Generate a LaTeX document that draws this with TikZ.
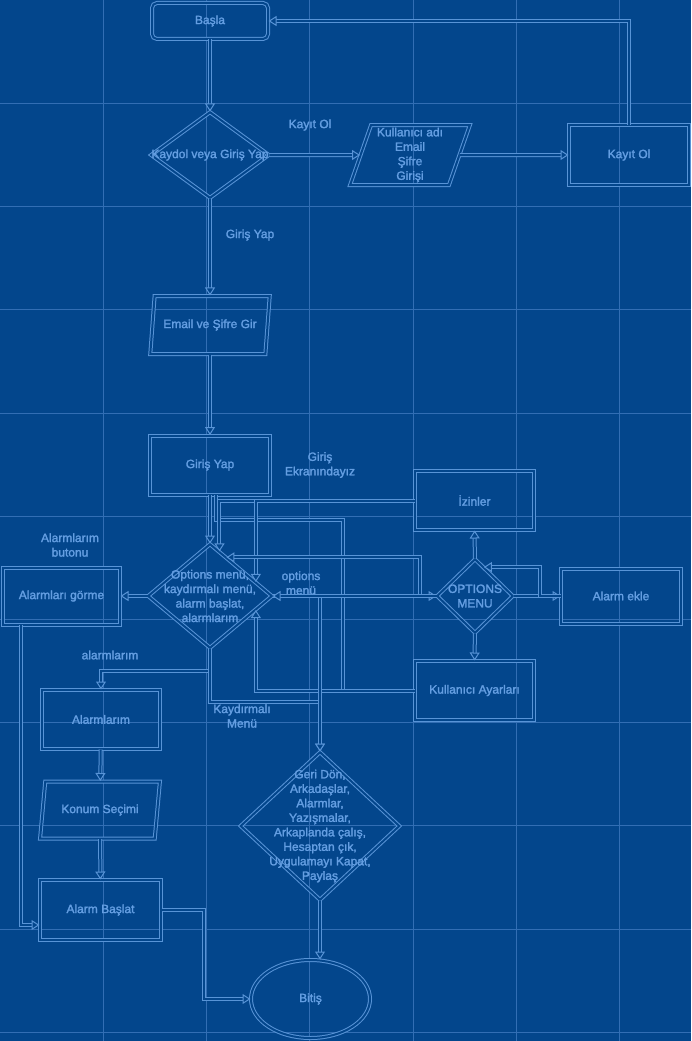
\documentclass[tikz,border=0pt]{standalone}
\usepackage{fontspec}
\setmainfont{Liberation Sans}
\newfontfamily\bpfont{Liberation Sans}[FakeBold=2]
\usetikzlibrary{shapes.geometric,arrows.meta}
\definecolor{bp}{RGB}{3,70,140}
\definecolor{bpline}{RGB}{88,148,215}
\definecolor{bpgrid}{RGB}{50,110,180}
\definecolor{bptext}{RGB}{100,158,226}
\begin{document}
\begin{tikzpicture}[x=1pt,y=-1pt,
    every node/.style={font=\bpfont\fontsize{12}{14.5}\selectfont, text=bptext, align=center, inner sep=0pt},
    wire/.style={draw=bpline, line width=1pt, double=bp, double distance=2pt},
    arr/.style={wire, -{Triangle[fill=bp, line width=1pt, width=10pt, length=8pt]}},
    box/.style={wire, rectangle, minimum width=120pt, minimum height=60pt},
    dia/.style={wire, diamond},
    para/.style={wire, trapezium, trapezium left angle=72, trapezium right angle=108,
      trapezium stretches=true, minimum width=120pt, minimum height=60pt}]
    \fill[bp] (0,0) rectangle (691,1041);
    \useasboundingbox (0,0) rectangle (691,1041);
    \foreach \i in {1,...,6} \draw[bpgrid, line width=0.6pt] (\i*103.2,0) -- (\i*103.2,1041);
    \foreach \j in {1,...,10} \draw[bpgrid, line width=0.6pt] (0,\j*103.2) -- (691,\j*103.2);

    \node[box, rounded corners=5pt, minimum width=116pt, minimum height=36pt] (basla) at (210,21) {Başla};
    \node[dia, minimum width=118pt, minimum height=86pt, label={center:Kaydol veya Giriş Yap}] (kaydol) at (210,155) {};
    \node[para] (kulgiris) at (410,155) {Kullanıcı adı\\Email\\Şifre\\Girişi};
    \node[box] (kayitol) at (629,155) {Kayıt Ol};
    \node[para, minimum height=58pt] (emailgir) at (210,325) {Email ve Şifre Gir};
    \node[box, minimum height=59pt] (girisyap) at (210,465) {Giriş Yap};
    \node[dia, minimum width=124pt, minimum height=104pt,
      label={center:{Options menü,\\kaydırmalı menü,\\alarm başlat,\\alarmlarım}}] (options) at (210,596) {};
    \node[box, minimum width=117pt, minimum height=57pt] (alarmgor) at (61.5,596) {Alarmları görme};
    \node[box, minimum width=118pt, minimum height=59pt] (alarmlarim) at (101,719.5) {Alarmlarım};
    \node[para, minimum height=57pt] (konum) at (100,810) {Konum Seçimi};
    \node[box, minimum width=121pt] (alarmbaslat) at (100.5,910) {Alarm Başlat};
    \node[dia, minimum width=159pt, minimum height=148pt,
      label={center:{Geri Dön,\\Arkadaşlar,\\Alarmlar,\\Yazışmalar,\\Arkaplanda çalış,\\Hesaptan çık,\\Uygulamayı Kapat,\\Paylaş}}] (geri) at (320,826) {};
    \node[wire, ellipse, minimum width=119pt, minimum height=78pt] (bitis) at (310.5,999) {Bitiş};
    \node[box, minimum width=119pt, minimum height=59pt] (izinler) at (474.5,500.5) {İzinler};
    \node[dia, minimum width=76pt, minimum height=74pt, label={center:{OPTIONS\\MENU}}] (optmenu) at (475,596) {};
    \node[box, minimum width=119pt, minimum height=59pt] (kullanici) at (474.5,690.5) {Kullanıcı Ayarları};
    \node[box, minimum height=55pt] (alarmekle) at (621,596) {Alarm ekle};

    \node (lkayit) at (310,125) {Kayıt Ol};
    \node (lgiris) at (250,235) {Giriş Yap};
    \node (lekran) at (320,465) {Giriş\\Ekranındayız};
    \node (lbuton) at (70,545) {Alarmlarım\\butonu};
    \node (lopt) at (301,583) {options\\menü};
    \node (lalarm) at (110,655) {alarmlarım};
    \node (lkaydir) at (242,716) {Kaydırmalı\\Menü};

    \draw[arr] (basla) -- (kaydol);
    \draw[arr] (kaydol) -- (kulgiris);
    \draw[arr] (kulgiris) -- (kayitol);
    \draw[arr] (kayitol.north) |- (basla);
    \draw[arr] (kaydol) -- (emailgir);
    \draw[arr] (emailgir) -- (girisyap);
    \draw[arr] (girisyap) -- (options);
    \draw[wire] ([xshift=6pt]girisyap.south) |- (343,520) |- (kullanici.west);
    \draw[arr] (izinler.west) -| (options.78);
    \draw[arr] (izinler.west) -| (options.17);
    \draw[arr] (optmenu.west) -- ++(-17,0) |- (options.67);
    \draw[arr] (kullanici.west) -| (options.-17);
    \draw[arr] (options) -- (alarmgor);
    \draw[arr] (options.south) -- ++(0,22) -| (alarmlarim);
    \draw[arr] (options.south) |- ([yshift=50pt]geri.north) -- (geri.north);
    \draw[arr] (optmenu.west) -| (geri.north);
    \draw[arr] (options) -- (optmenu);
    \draw[arr] (optmenu) -- (options);
    \draw[arr] (optmenu) -- (izinler);
    \draw[arr] (optmenu) -- (kullanici);
    \draw[arr] (optmenu) -- (alarmekle);
    \draw[arr] (alarmekle.west) -- ++(-21,0) |- (optmenu.73);
    \draw[arr] (alarmlarim) -- (konum);
    \draw[arr] (konum) -- (alarmbaslat);
    \draw[arr] ([xshift=-41pt]alarmgor.south) |- ([yshift=-15pt]alarmbaslat.west);
    \draw[arr] (alarmbaslat.east) -- ++(42,0) |- (bitis);
    \draw[arr] (geri) -- (geri |- bitis.north);
\end{tikzpicture}
\end{document}
